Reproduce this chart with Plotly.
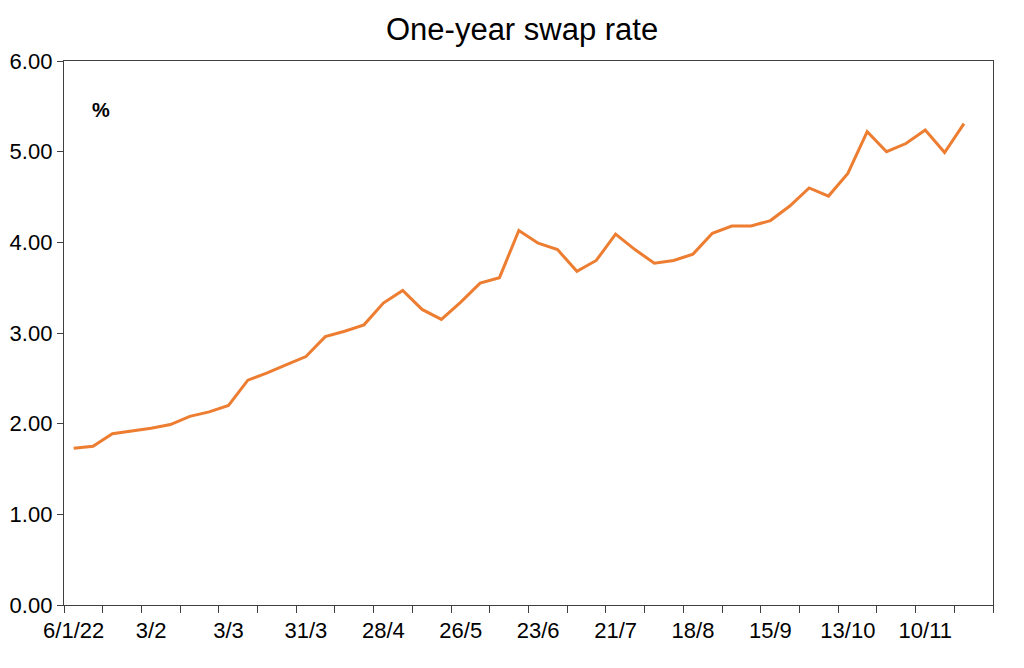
import plotly.graph_objects as go

# weekly observations, Thursday dates (d/m)
dates = [
    "6/1/22", "13/1", "20/1", "27/1", "3/2", "10/2", "17/2", "24/2",
    "3/3", "10/3", "17/3", "24/3", "31/3", "7/4", "14/4", "21/4",
    "28/4", "5/5", "12/5", "19/5", "26/5", "2/6", "9/6", "16/6",
    "23/6", "30/6", "7/7", "14/7", "21/7", "28/7", "4/8", "11/8",
    "18/8", "25/8", "1/9", "8/9", "15/9", "22/9", "29/9", "6/10",
    "13/10", "20/10", "27/10", "3/11", "10/11", "17/11", "24/11",
]
swap_rate = [
    1.73, 1.75, 1.89, 1.92, 1.95, 1.99, 2.08, 2.13,
    2.20, 2.48, 2.56, 2.65, 2.74, 2.96, 3.02, 3.09,
    3.33, 3.47, 3.26, 3.15, 3.34, 3.55, 3.61, 4.13,
    3.99, 3.92, 3.68, 3.80, 4.09, 3.92, 3.77, 3.80,
    3.87, 4.10, 4.18, 4.18, 4.24, 4.40, 4.60, 4.51,
    4.76, 5.22, 5.00, 5.09, 5.24, 4.99, 5.31,
]
n_slots = 48  # one empty week slot at the right end
label_every = 4
tick_every = 2

x_idx = list(range(len(dates)))
label_pos = x_idx[::label_every]
label_txt = [dates[i] for i in label_pos]
boundaries = [i - 0.5 for i in range(0, n_slots + 1, tick_every)]

axis_col = "#404040"
font_fam = "Liberation Sans, Arial, sans-serif"
textsize = 22

fig = go.Figure()

fig.add_trace(go.Scatter(
    x=x_idx,
    y=swap_rate,
    mode="lines",
    line=dict(color="#ED7D31", width=3),
    hoverinfo="x+y",
    showlegend=False,
))

fig.add_annotation(
    x=0.028, y=0.934, xref="paper", yref="paper",
    text="<b>%</b>", showarrow=False,
    font=dict(size=20, family=font_fam, color="black"),
)

# page body adds an 8px offset, so the figure is a bit smaller than the window
fig.update_layout(
    width=1016, height=660,
    plot_bgcolor="white",
    paper_bgcolor="white",
    margin=dict(l=56, r=31, t=53, b=63, autoexpand=False),
    font=dict(family=font_fam, size=textsize, color="black"),
    title=dict(
        text="One-year swap rate",
        x=0.506, xanchor="center", y=0.968, yanchor="middle",
        font=dict(size=31, family=font_fam, color="black"),
    ),
    xaxis=dict(
        range=[-0.5, n_slots - 0.5], automargin=False,
        tickvals=label_pos, ticktext=label_txt, ticklabelstandoff=5,
        ticks="", showgrid=False, zeroline=False,
        showline=True, linecolor=axis_col, linewidth=1.3, mirror=True,
        tickfont=dict(size=textsize),
        minor=dict(tickvals=boundaries, ticks="outside", ticklen=7,
                   tickcolor=axis_col, tickwidth=1.3, showgrid=False),
    ),
    # second axis only for the inner half of the crossing tick marks
    xaxis2=dict(
        overlaying="x", anchor="y", side="bottom", automargin=False,
        range=[-0.5, n_slots - 0.5],
        tickvals=boundaries, ticks="inside", ticklen=7,
        tickcolor=axis_col, tickwidth=1.3,
        showticklabels=False, showgrid=False, zeroline=False, showline=False,
    ),
    yaxis=dict(
        range=[0, 6], dtick=1, tickformat=".2f", automargin=False,
        ticks="outside", ticklen=6, tickcolor=axis_col, tickwidth=1.3,
        showgrid=False, zeroline=False,
        showline=True, linecolor=axis_col, linewidth=1.3, mirror=True,
        tickfont=dict(size=textsize),
    ),
)

fig.write_html("out.html")
